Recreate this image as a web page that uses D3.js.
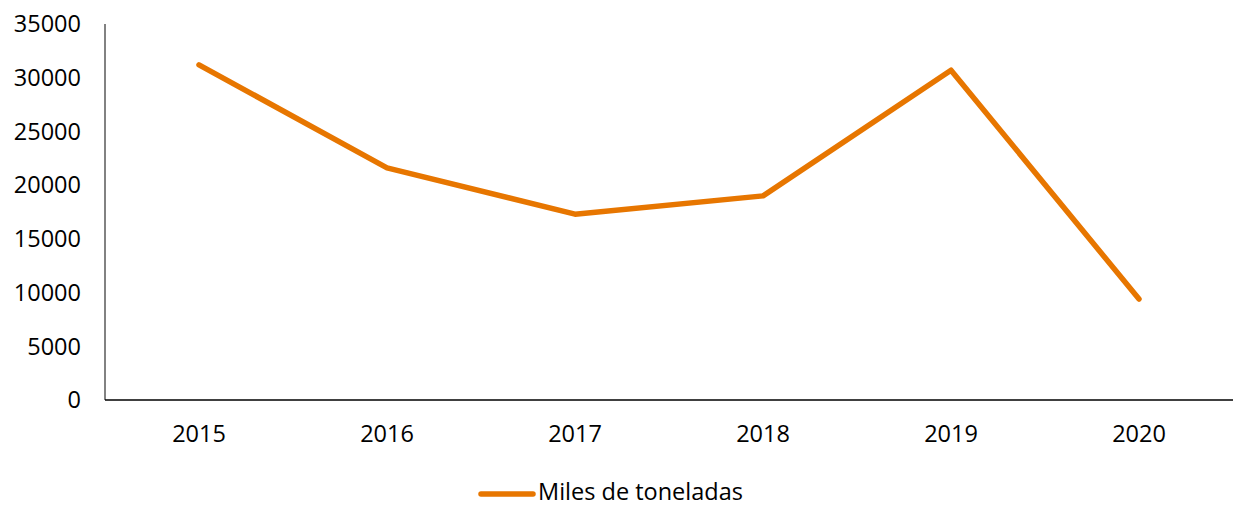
<!DOCTYPE html>
<html><head><meta charset="utf-8">
<script src="https://cdn.jsdelivr.net/npm/d3@7"></script>
<style>body{margin:0;background:#fff;} svg{display:block;font-family:"Open Sans","Noto Sans",sans-serif;}</style>
</head><body>
<svg id="c" width="1243" height="506"></svg>
<script>
const categories = ["2015","2016","2017","2018","2019","2020"];
const values = [31200, 21600, 17300, 19000, 30700, 9400];
const yTicks = [0,5000,10000,15000,20000,25000,30000,35000];
const seriesName = "Miles de toneladas";

(function(){
const svg = d3.select("#c");
const mLeft = 105, mRight = 1233, mTop = 24, mBottom = 400;
const x = d3.scaleBand().domain(categories).range([mLeft, mRight]);
const y = d3.scaleLinear().domain([0, 35000]).range([mBottom, mTop]);
const color = "#E77600";
const fs = 23.5;

svg.append("g").selectAll("text").data(yTicks).join("text")
  .attr("x", 81).attr("y", d => y(d)).attr("dy", "0.35em")
  .attr("text-anchor", "end").attr("font-size", fs).attr("fill", "#000")
  .text(d => d);

svg.append("line").attr("x1", mLeft).attr("x2", mLeft).attr("y1", y(35000)).attr("y2", mBottom)
  .attr("stroke", "#595959").attr("stroke-width", 1.5);
svg.append("line").attr("x1", mLeft).attr("x2", mRight).attr("y1", mBottom).attr("y2", mBottom)
  .attr("stroke", "#000").attr("stroke-width", 1.5);

svg.append("g").selectAll("text").data(categories).join("text")
  .attr("x", d => x(d) + x.bandwidth()/2).attr("y", 442)
  .attr("text-anchor", "middle").attr("font-size", fs).attr("fill", "#000")
  .text(d => d);

const line = d3.line().x((d,i) => x(categories[i]) + x.bandwidth()/2).y(d => y(d));
svg.append("path").datum(values).attr("d", line)
  .attr("fill", "none").attr("stroke", color).attr("stroke-width", 5.5)
  .attr("stroke-linecap", "round").attr("stroke-linejoin", "round");

svg.append("line").attr("x1", 481).attr("x2", 533).attr("y1", 494).attr("y2", 494)
  .attr("stroke", color).attr("stroke-width", 5.5).attr("stroke-linecap", "round");
svg.append("text").attr("x", 538).attr("y", 499.5).attr("font-size", fs).attr("fill", "#000")
  .text(seriesName);
})();
</script>
</body></html>
